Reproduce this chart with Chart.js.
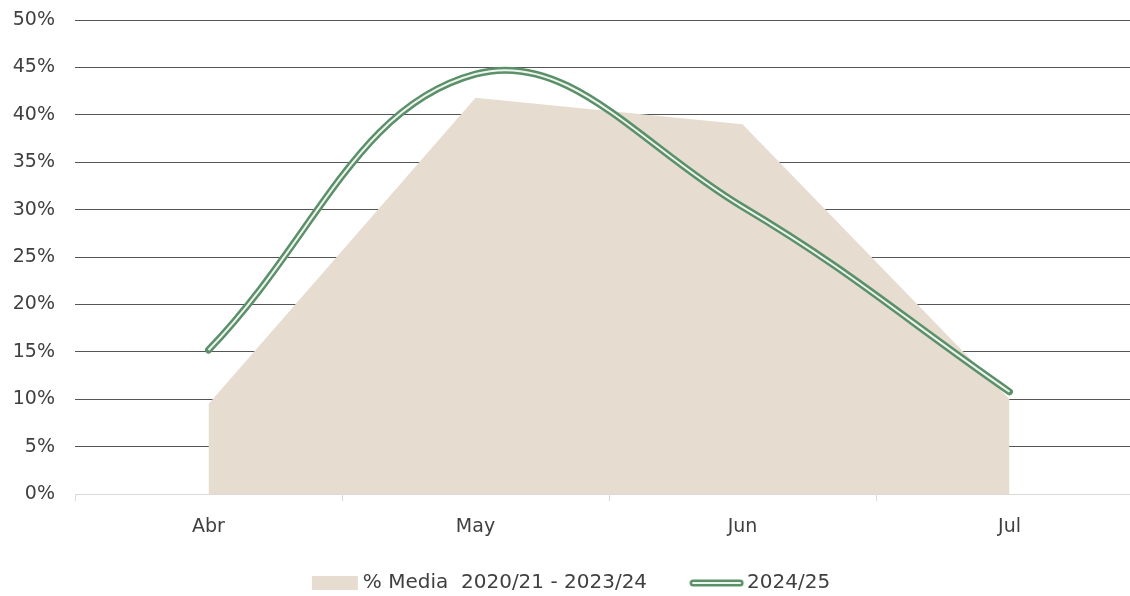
<!DOCTYPE html>
<html><head><meta charset="utf-8">
<script src="https://cdn.jsdelivr.net/npm/chart.js@4"></script>
<style>html,body{margin:0;padding:0;background:#fff;overflow:hidden}#wrap{width:1160px;height:596px}</style>
</head><body><div id="wrap"><canvas id="c" width="1160" height="596"></canvas></div>
<script>
const categories = ['Abr', 'May', 'Jun', 'Jul'];
const mediaValues = [9.5, 41.8, 39.0, 10.0];
const currentValues = [15.2, 44.3, 30.3, 10.8];
const yTicks = [0, 5, 10, 15, 20, 25, 30, 35, 40, 45, 50];
const seriesNames = ['% Media  2020/21 - 2023/24', '2024/25'];

const GREEN = '#5b9068', INNER = '#eef4ef', AREA = '#e6ddd0';

function areaSwatch(){const c=document.createElement('canvas');c.width=100;c.height=14;const x=c.getContext('2d');x.fillStyle=AREA;x.fillRect(49,0,46,14);return c;}
function lineSwatch(){const c=document.createElement('canvas');c.width=100;c.height=14;const x=c.getContext('2d');x.lineCap='round';x.strokeStyle=GREEN;x.lineWidth=7;x.beginPath();x.moveTo(46,7);x.lineTo(93,7);x.stroke();x.strokeStyle=INNER;x.lineWidth=2;x.beginPath();x.moveTo(46,7);x.lineTo(93,7);x.stroke();return c;}

Chart.defaults.font.family = '"DejaVu Sans", sans-serif';
Chart.defaults.color = '#404040';

const legendShift = {
  id: 'legendShift',
  afterLayout(chart) {
    const lg = chart.legend; if (!lg) return;
    lg.left -= 20; lg.right -= 20;
    const dy = 563 - lg.top; lg.top += dy; lg.bottom += dy;
  }
};

new Chart(document.getElementById('c'), {
  type: 'line',
  data: {
    labels: categories,
    datasets: [
      {label: seriesNames[1], data: currentValues, borderColor: INNER, borderWidth: 2, tension: 0.4, pointRadius: 0, fill: false, order: 0, isInner: true},
      {label: seriesNames[1], data: currentValues, borderColor: GREEN, borderWidth: 7, tension: 0.4, pointRadius: 0, fill: false, order: 1, borderCapStyle: 'round', pointStyle: lineSwatch()},
      {label: seriesNames[0], data: mediaValues, backgroundColor: AREA, borderWidth: 0, borderColor: AREA, tension: 0, pointRadius: 0, fill: 'origin', order: 2, pointStyle: areaSwatch()}
    ]
  },
  plugins: [legendShift],
  options: {
    responsive: false,
    animation: false,
    layout: {padding: {left: 0, right: 17, top: 0, bottom: 4}},
    plugins: {
      tooltip: {enabled: false},
      legend: {
        position: 'bottom',
        reverse: true,
        labels: {
          filter: (item, data) => !data.datasets[item.datasetIndex].isInner,
          usePointStyle: true, pointStyleWidth: 80, boxHeight: 14,
          font: {size: 20}, color: '#404040', padding: 10
        }
      }
    },
    scales: {
      x: {
        offset: true,
        grid: {offset: true, drawOnChartArea: false, color: '#d9d9d9', tickLength: 7},
        border: {color: '#d9d9d9'},
        ticks: {font: {size: 19}, color: '#404040', padding: 14}
      },
      y: {
        min: 0, max: 50,
        afterBuildTicks: (axis) => { axis.ticks = yTicks.map(v => ({value: v})); },
        afterFit: (axis) => { axis.width = 75; axis.paddingTop = 20; axis.paddingBottom = 0; },
        grid: {color: (ctx) => ctx.tick && ctx.tick.value === 0 ? 'rgba(0,0,0,0)' : '#555555', drawTicks: false, lineWidth: 1},
        border: {display: false},
        ticks: {font: {size: 19}, color: '#404040', padding: 20, callback: (v) => v + '%'}
      }
    }
  }
});
</script></body></html>
